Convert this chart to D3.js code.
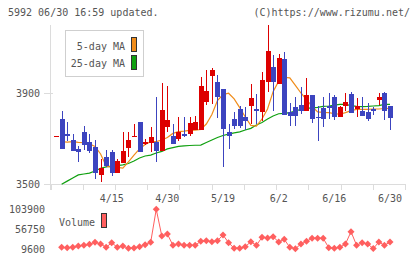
<!DOCTYPE html>
<html>
<head>
<meta charset="utf-8">
<script src="https://cdn.jsdelivr.net/npm/d3@7"></script>
<style>
  body { margin: 0; background: #fff; }
  text { font-family: "DejaVu Sans Mono", monospace; fill: #555; }
</style>
</head>
<body>
<div id="chart"></div>
<script>
const width = 420
const height = 259

// OHLC per trading day (index 0 = first slot)
const opens  = [3713,3786,3720,3694,3653,3730,3687,3662,3541,3618,3641,3551,3595,3659,3713,3773,3678,3680,3687,3647,3752,3712,3697,3720,3720,3738,3738,3862,3976,3947,3916,3730,3786,3830,3796,3843,3829,3815,3949,4015,3939,4049,3818,3837,3847,3822,3891,3793,3834,3844,3882,3796,3844,3896,3828,3822,3815,3829,3869,3900,3843]
const highs  = [3713,3821,3773,3720,3668,3755,3720,3694,3610,3650,3650,3612,3728,3730,3764,3773,3700,3752,3884,3942,3931,3764,3793,3793,3793,3799,3971,4001,4010,3979,3916,3764,3818,3844,3840,3939,3895,3991,4198,4066,4069,4078,3857,3884,3928,3964,3891,3843,3884,3899,3891,3845,3900,3904,3877,3881,3855,3840,3899,3904,3843]
const lows   = [3713,3656,3690,3647,3599,3650,3637,3522,3511,3575,3536,3551,3595,3621,3713,3643,3672,3640,3599,3647,3730,3675,3691,3708,3712,3738,3738,3847,3851,3789,3577,3653,3741,3745,3738,3764,3764,3777,3906,3822,3939,3804,3755,3755,3807,3822,3767,3691,3752,3785,3782,3796,3822,3814,3796,3799,3777,3804,3847,3782,3738]
const closes = [3713,3656,3711,3647,3640,3672,3647,3548,3570,3580,3548,3602,3647,3694,3713,3643,3684,3708,3647,3825,3782,3675,3730,3711,3770,3774,3930,3909,4001,3881,3742,3712,3755,3755,3779,3879,3820,3957,4084,3949,4055,3804,3799,3799,3822,3891,3785,3790,3786,3835,3796,3839,3860,3814,3843,3799,3786,3822,3881,3822,3792]

// moving averages and volume as drawn (null = not drawn)
const ma5 = [null,3687,3685,3687,3684,3682,3677,3666,3633,3580,3574,3574,3571,3598,3628,3655,3674,3687,3687,3694,3705,3723,3731,3733,3736,3737,3740,3764,3806,3867,3893,3899,3874,3836,3795,3758,3755,3786,3830,3906,3952,3968,3966,3933,3900,3871,3841,3817,3815,3814,3810,3807,3814,3823,3828,3828,3828,3830,3830,3832,3833]
const ma25 = [null,3500,3514,3528,3541,3545,3549,3558,3570,3576,3580,3582,3585,3591,3602,3615,3624,3628,3637,3644,3655,3661,3666,3668,3670,3671,3672,3683,3694,3705,3714,3720,3725,3730,3738,3745,3760,3771,3786,3799,3809,3811,3814,3821,3828,3833,3835,3837,3841,3843,3847,3850,3850,3845,3841,3840,3841,3843,3845,3850,3850]
const volumes = [null,12950,12000,12950,16060,17740,20130,24920,20850,12950,23960,12950,16060,10560,11000,14390,19170,24920,103900,40000,44780,17740,20850,17740,17740,17740,27310,28740,26350,28740,42380,23960,10560,10560,14390,26350,17740,36880,35200,38320,25630,32090,12950,9600,20850,27310,34490,34490,34490,12000,10560,12950,20850,50280,17740,23960,20850,10000,25630,17740,25630]

const dateLabels = ['4/15', '4/30', '5/19', '6/2', '6/16', '6/30']
const dateLabelIdx = [10, 20, 30, 40, 50, 60]
const priceTicks = [3500, 3900]
const volumeTicks = [9600, 56750, 103900]

const upColor = '#dd0000'
const downColor = '#3c44bf'
const ma5Color = '#f08c1a'
const ma25Color = '#10a010'
const volColor = '#ff5f5f'
const axisColor = '#dcdcdc'

const svg = d3.select('#chart').append('svg').attr('width', width).attr('height', height)

const x = d3.scaleLinear().domain([-1, 62.7]).range([50.5, 405])
const y = d3.scaleLinear().domain([3500, 3900]).range([184.3, 93])
const yVol = d3.scaleLinear().domain([9600, 103900]).range([248.7, 209.3])

// header texts
svg.append('text').attr('x', 8).attr('y', 16).attr('font-size', 10).text('5992 06/30 16:59 updated.')
svg.append('text').attr('x', 410).attr('y', 16).attr('font-size', 10).attr('text-anchor', 'end').text('(C)https://www.rizumu.net/')

// axes
const axisGroup = svg.append('g').attr('class', 'axisGroup').attr('stroke', axisColor).attr('shape-rendering', 'crispEdges')
axisGroup.append('line').attr('x1', 50.5).attr('x2', 50.5).attr('y1', 25).attr('y2', 190)
axisGroup.append('line').attr('x1', 44).attr('x2', 405).attr('y1', 184.5).attr('y2', 184.5)
d3.range(12).map(k => -1 + k * (62.7 + 1) / 11).forEach(v => {
  axisGroup.append('line').attr('x1', Math.round(x(v)) + 0.5).attr('x2', Math.round(x(v)) + 0.5).attr('y1', 184).attr('y2', 190)
})
priceTicks.forEach(v => {
  axisGroup.append('line').attr('x1', 44).attr('x2', 53).attr('y1', Math.round(y(v)) + 0.5).attr('y2', Math.round(y(v)) + 0.5)
})

priceTicks.forEach(v => {
  svg.append('text').attr('x', 40).attr('y', y(v) + 4).attr('font-size', 10).attr('text-anchor', 'end').text(v)
})
dateLabels.forEach((d, k) => {
  svg.append('text').attr('x', x(dateLabelIdx[k])).attr('y', 202).attr('font-size', 10).attr('text-anchor', 'middle').text(d)
})
volumeTicks.forEach(v => {
  svg.append('text').attr('x', 45).attr('y', yVol(v) + 4).attr('font-size', 10).attr('text-anchor', 'end').text(v)
})

// legend
const legend = svg.append('g').attr('class', 'legend')
legend.append('rect').attr('x', 65.5).attr('y', 30.5).attr('width', 78).attr('height', 46)
  .attr('fill', '#fff').attr('stroke', '#cfcfcf')
legend.append('text').attr('x', 125).attr('y', 49.5).attr('font-size', 10).attr('text-anchor', 'end').text('5-day MA')
legend.append('text').attr('x', 125).attr('y', 66.5).attr('font-size', 10).attr('text-anchor', 'end').text('25-day MA')
legend.append('rect').attr('x', 131.5).attr('y', 37.5).attr('width', 5).attr('height', 14).attr('fill', ma5Color).attr('stroke', '#333')
legend.append('rect').attr('x', 131.5).attr('y', 55.5).attr('width', 5).attr('height', 14).attr('fill', ma25Color).attr('stroke', '#333')

// moving averages
const maLine = d3.line().defined(d => d.v !== null).x(d => x(d.i)).y(d => y(d.v))
svg.append('path').datum(ma25.map((v, i) => ({ i, v })))
  .attr('d', maLine).attr('fill', 'none').attr('stroke', ma25Color).attr('stroke-width', 1.2)
svg.append('path').datum(ma5.map((v, i) => ({ i, v })))
  .attr('d', maLine).attr('fill', 'none').attr('stroke', ma5Color).attr('stroke-width', 1.2)

// candles
const candles = opens.map((o, i) => ({ i, o, h: highs[i], l: lows[i], c: closes[i] }))
const candleGroup = svg.append('g').attr('class', 'candles').attr('shape-rendering', 'crispEdges')
candleGroup.selectAll('line').data(candles).enter().append('line')
  .attr('x1', d => Math.round(x(d.i)) + 0.5)
  .attr('x2', d => Math.round(x(d.i)) + 0.5)
  .attr('y1', d => y(d.h))
  .attr('y2', d => y(d.l))
  .attr('stroke', d => d.c >= d.o ? upColor : downColor)
candleGroup.selectAll('rect').data(candles).enter().append('rect')
  .attr('x', d => Math.round(x(d.i)) - 2)
  .attr('width', 5)
  .attr('y', d => y(Math.max(d.o, d.c)))
  .attr('height', d => Math.max(1, Math.abs(y(d.o) - y(d.c))))
  .attr('fill', d => d.c >= d.o ? upColor : downColor)

// volume
const volData = volumes.map((v, i) => ({ i, v }))
svg.append('path').datum(volData)
  .attr('d', d3.line().defined(d => d.v !== null).x(d => x(d.i)).y(d => yVol(d.v)))
  .attr('fill', 'none').attr('stroke', volColor).attr('stroke-width', 1)
svg.append('g').selectAll('path').data(volData.filter(d => d.v !== null)).enter().append('path')
  .attr('d', 'M0,-3.5L3.5,0L0,3.5L-3.5,0Z')
  .attr('transform', d => `translate(${x(d.i)},${yVol(d.v)})`)
  .attr('fill', volColor)

svg.append('text').attr('x', 59).attr('y', 226).attr('font-size', 10).text('Volume')
svg.append('rect').attr('x', 101.5).attr('y', 213.5).attr('width', 5).attr('height', 14).attr('fill', volColor).attr('stroke', '#333')
</script>
</body>
</html>
